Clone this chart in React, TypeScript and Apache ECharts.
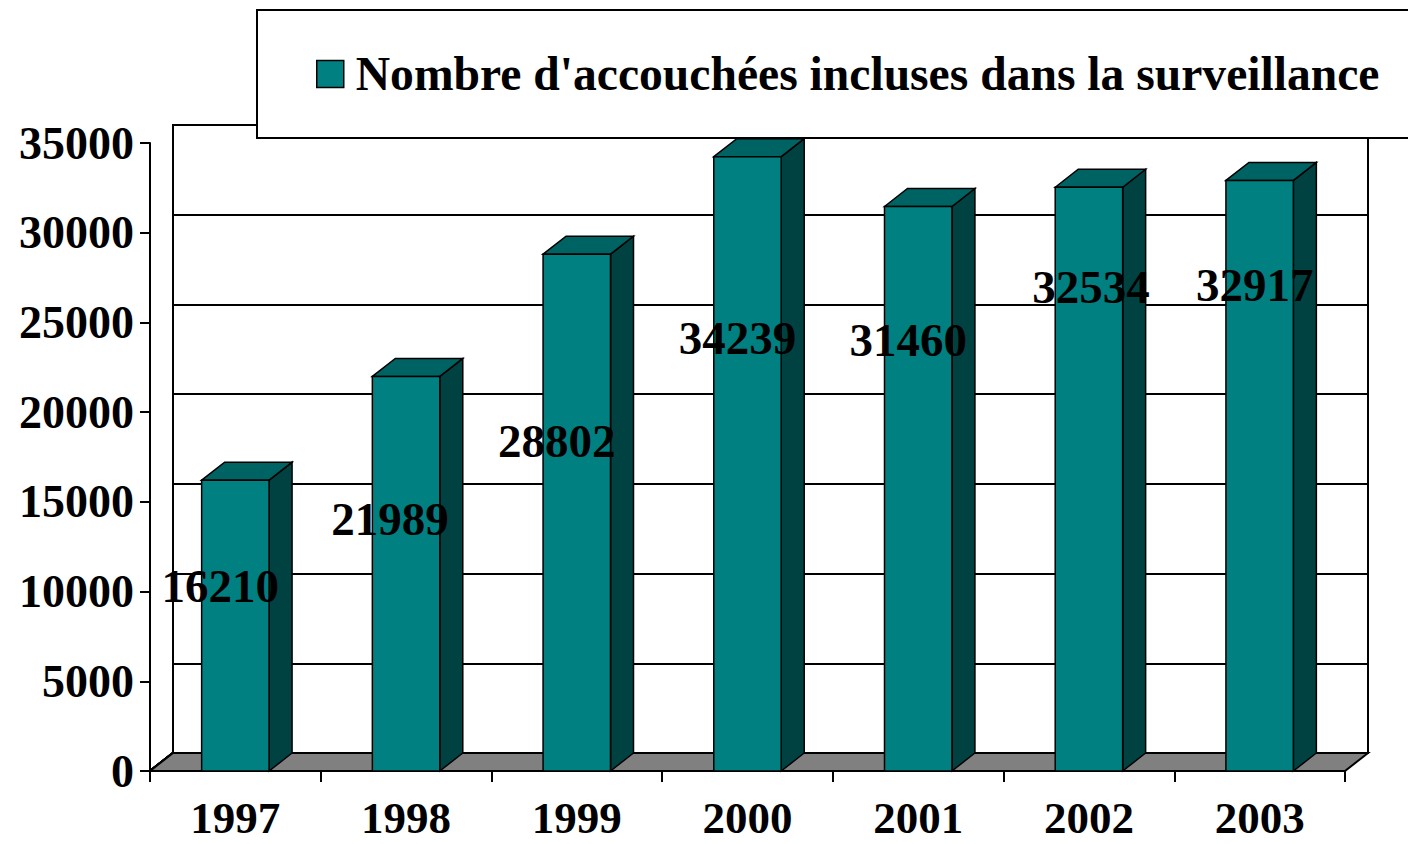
import React, { useEffect, useRef } from "react";
import * as echarts from "echarts";

const years = ["1997", "1998", "1999", "2000", "2001", "2002", "2003"];
const births = [16210, 21989, 28802, 34239, 31460, 32534, 32917];
const yTicks = [0, 5000, 10000, 15000, 20000, 25000, 30000, 35000];
const seriesName = "Nombre d'accouchées incluses dans la surveillance";
// label placement (pixel offsets from the top-centre of each bar's front face)
const labelOffsets = [
  [-15, 106],
  [-16, 143],
  [-20, 187],
  [-10, 181],
  [-10, 133],
  [2, 100],
  [-5, 105],
];

const FONT = "'Liberation Serif', 'Times New Roman', serif";
const DX = 23;
const DY = -18;
const FRONT = "#008080";
const TOP = "#006363";
const SIDE = "#004242";
const FLOOR = "#808080";

export default function App() {
  const ref = useRef<HTMLDivElement>(null);
  useEffect(() => {
    if (!ref.current) return;
    const chart = echarts.init(ref.current, undefined, { renderer: "svg" });
    const option: any = {
      animation: false,
      backgroundColor: "#ffffff",
      textStyle: { fontFamily: FONT },
      legend: {
        left: 257,
        top: 10,
        padding: [40, 200, 40, 59],
        backgroundColor: "#ffffff",
        borderColor: "#000000",
        borderWidth: 2,
        borderRadius: 0,
        itemWidth: 27,
        itemHeight: 27,
        icon: "rect",
        selectedMode: false,
        data: [{ name: seriesName, itemStyle: { color: FRONT, borderColor: "#000", borderWidth: 1.5 } }],
        textStyle: {
          fontFamily: FONT,
          fontWeight: "bold",
          fontSize: 47.6,
          lineHeight: 44,
          color: "#000",
          padding: [0, 0, 0, 7],
        },
        z: 10,
      },
      grid: [
        { left: 150, right: 63, top: 143, bottom: 73 },
        {
          left: 150 + DX,
          right: 63 - DX,
          top: 143 + DY,
          bottom: 73 - DY,
          show: true,
          borderColor: "#000",
          borderWidth: 2,
          backgroundColor: "transparent",
        },
      ],
      xAxis: [
        {
          type: "category",
          gridIndex: 0,
          data: years,
          boundaryGap: true,
          axisLine: { show: true, lineStyle: { color: "#000", width: 2 } },
          axisTick: { show: true, length: 11, lineStyle: { color: "#000", width: 2 } },
          axisLabel: {
            color: "#000",
            fontFamily: FONT,
            fontWeight: "bold",
            fontSize: 45,
            lineHeight: 36,
            margin: 29,
          },
          splitLine: { show: false },
        },
        {
          type: "category",
          gridIndex: 1,
          data: years,
          show: false,
        },
      ],
      yAxis: [
        {
          type: "value",
          gridIndex: 0,
          min: 0,
          max: 35000,
          interval: 5000,
          axisLine: { show: true, lineStyle: { color: "#000", width: 2 } },
          axisTick: { show: true, length: 10, lineStyle: { color: "#000", width: 2 } },
          axisLabel: {
            color: "#000",
            fontFamily: FONT,
            fontWeight: "bold",
            fontSize: 46,
            margin: 16,
            formatter: (v: number) => String(v),
          },
          splitLine: { show: false },
        },
        {
          type: "value",
          gridIndex: 1,
          min: 0,
          max: 35000,
          interval: 5000,
          axisLine: { show: true, lineStyle: { color: "#000", width: 2 } },
          axisTick: { show: false },
          axisLabel: { show: false },
          splitLine: { show: true, lineStyle: { color: "#000", width: 2 } },
        },
      ],
      series: [
        {
          type: "custom",
          name: "walls",
          xAxisIndex: 0,
          yAxisIndex: 0,
          data: yTicks,
          silent: true,
          z: 1,
          renderItem: (params: any, api: any) => {
            const v = api.value(0);
            const x0 = params.coordSys.x;
            const y = api.coord([0, v])[1];
            return {
              type: "line",
              shape: { x1: x0, y1: y, x2: x0 + DX, y2: y + DY },
              style: { stroke: "#000", lineWidth: 2 },
            };
          },
        },
        {
          type: "custom",
          name: "floor",
          xAxisIndex: 0,
          yAxisIndex: 0,
          data: [0],
          silent: true,
          z: 2,
          renderItem: (params: any, api: any) => {
            const cs = params.coordSys;
            const y0 = api.coord([0, 0])[1];
            const xl = cs.x;
            const xr = cs.x + cs.width;
            return {
              type: "polygon",
              shape: {
                points: [
                  [xl, y0],
                  [xr, y0],
                  [xr + DX, y0 + DY],
                  [xl + DX, y0 + DY],
                ],
              },
              style: { fill: FLOOR, stroke: "#000", lineWidth: 2 },
            };
          },
        },
        {
          type: "custom",
          name: seriesName,
          xAxisIndex: 0,
          yAxisIndex: 0,
          data: births.map((v, i) => [i, v]),
          itemStyle: { color: FRONT },
          z: 3,
          renderItem: (params: any, api: any) => {
            const idx = api.value(0);
            const val = api.value(1);
            const top = api.coord([idx, val]);
            const base = api.coord([idx, 0]);
            const w = api.size([1, 0])[0] * 0.395;
            const x1 = top[0] - w / 2;
            const x2 = top[0] + w / 2;
            const yT = top[1];
            const y0 = base[1];
            const off = labelOffsets[params.dataIndex] || [0, 0];
            const edge = { stroke: "#000", lineWidth: 1.5 };
            return {
              type: "group",
              children: [
                {
                  type: "polygon",
                  shape: { points: [[x2, yT], [x2 + DX, yT + DY], [x2 + DX, y0 + DY], [x2, y0]] },
                  style: { fill: SIDE, ...edge },
                },
                {
                  type: "polygon",
                  shape: { points: [[x1, yT], [x1 + DX, yT + DY], [x2 + DX, yT + DY], [x2, yT]] },
                  style: { fill: TOP, ...edge },
                },
                {
                  type: "rect",
                  shape: { x: x1, y: yT, width: w, height: y0 - yT },
                  style: { fill: FRONT, ...edge },
                },
                {
                  type: "text",
                  z2: 100,
                  style: {
                    text: String(val),
                    x: top[0] + off[0],
                    y: yT + off[1],
                    align: "center",
                    verticalAlign: "middle",
                    fontFamily: FONT,
                    fontWeight: "bold",
                    fontSize: 47,
                    fill: "#000",
                  },
                },
              ],
            };
          },
        },
      ],
    };
    chart.setOption(option);
    return () => chart.dispose();
  }, []);
  return (
    <div
      ref={ref}
      style={{ position: "absolute", left: 0, top: 0, width: 1408, height: 844 }}
    />
  );
}
